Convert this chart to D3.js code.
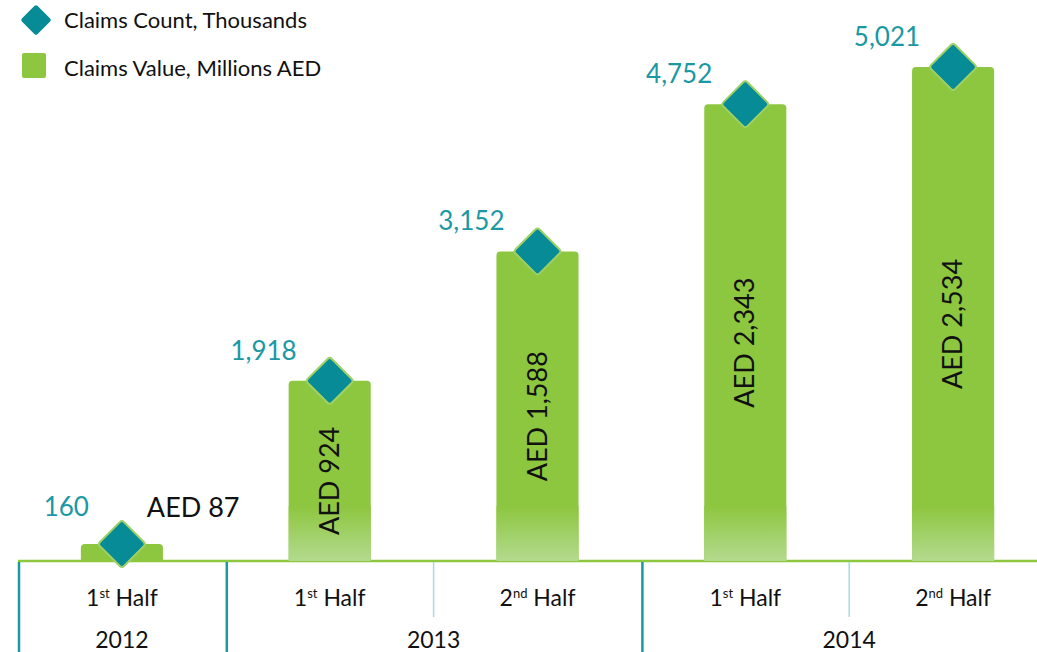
<!DOCTYPE html>
<html>
<head>
<meta charset="utf-8">
<script src="https://cdn.jsdelivr.net/npm/d3@7"></script>
<style>
  body { margin: 0; background: #fff; }
  svg { display: block; font-family: Lato, "Open Sans", sans-serif; }
</style>
</head>
<body>
<div id="chart"></div>
<script>
// data
var periods = ["2012 H1", "2013 H1", "2013 H2", "2014 H1", "2014 H2"];
var halfLabels = [["1", "st"], ["1", "st"], ["2", "nd"], ["1", "st"], ["2", "nd"]];
var years = ["2012", "2013", "2014"];
var yearSpans = [[0, 0], [1, 2], [3, 4]];
var claimsCount = [160, 1918, 3152, 4752, 5021];     // thousands
var claimsValue = [87, 924, 1588, 2343, 2534];        // millions AED

var svgWidth = 1037, svgHeight = 652;
var baseY = 561;

var svg = d3.select("#chart").append("svg")
  .attr("width", svgWidth)
  .attr("height", svgHeight);

var green = "#8dc63f", teal = "#078c97", tealText = "#1a98a3";

var defs = svg.append("defs");
var grad = defs.append("linearGradient")
  .attr("id", "fade").attr("x1", 0).attr("y1", 0).attr("x2", 0).attr("y2", 1);
grad.append("stop").attr("offset", "0%").attr("stop-color", green);
grad.append("stop").attr("offset", "100%").attr("stop-color", "#b3da8e");

// scales
var x = d3.scaleBand().domain(periods).range([18, 1057]).paddingInner(0.605);
x.paddingOuter(x.paddingInner() / 2);
var y = d3.scaleLinear().domain([0, 2534]).range([baseY, 67]);

// baseline
svg.append("line")
  .attr("x1", 18).attr("x2", svgWidth)
  .attr("y1", baseY).attr("y2", baseY)
  .attr("stroke", green).attr("stroke-width", 2.5);

// bars
var bars = svg.selectAll("g.bar").data(periods).enter().append("g").attr("class", "bar");

bars.append("path")
  .attr("fill", green)
  .attr("d", function (d, i) {
    var x0 = x(d), w = x.bandwidth(), t = y(claimsValue[i]), r = 4;
    return "M" + x0 + "," + baseY +
      "V" + (t + r) + "Q" + x0 + "," + t + " " + (x0 + r) + "," + t +
      "H" + (x0 + w - r) + "Q" + (x0 + w) + "," + t + " " + (x0 + w) + "," + (t + r) +
      "V" + baseY + "Z";
  });

// faded bottom section of the taller bars
bars.filter(function (d, i) { return y(claimsValue[i]) < 506; })
  .append("rect")
  .attr("x", function (d) { return x(d); })
  .attr("width", function () { return x.bandwidth(); })
  .attr("y", 506)
  .attr("height", baseY - 506)
  .attr("fill", "url(#fade)");

// value labels inside bars (rotated)
bars.filter(function (d, i) { return i > 0; })
  .append("text")
  .attr("transform", function (d) {
    var i = periods.indexOf(d);
    var cy = (y(claimsValue[i]) + baseY) / 2 + 10;
    return "translate(" + (x(d) + x.bandwidth() / 2 + 9) + "," + cy + ") rotate(-90)";
  })
  .attr("text-anchor", "middle")
  .style("font-size", "27px")
  .attr("fill", "#111")
  .text(function (d) {
    return "AED " + d3.format(",")(claimsValue[periods.indexOf(d)]);
  });

// short first bar gets its label outside
svg.append("text")
  .attr("x", x(periods[0]) + 66).attr("y", 517)
  .style("font-size", "27px").attr("fill", "#111")
  .text("AED " + d3.format(",")(claimsValue[0]));

// diamonds for claims count
var ds = 17;
svg.selectAll("rect.diamond").data(periods).enter().append("rect")
  .attr("class", "diamond")
  .attr("x", -ds).attr("y", -ds)
  .attr("width", ds * 2).attr("height", ds * 2)
  .attr("rx", 3)
  .attr("fill", teal)
  .attr("stroke", "#9fd166").attr("stroke-width", 2)
  .attr("transform", function (d, i) {
    return "translate(" + (x(d) + x.bandwidth() / 2) + "," + y(claimsValue[i]) + ") rotate(45)";
  });

svg.selectAll("text.count").data(periods).enter().append("text")
  .attr("class", "count")
  .attr("x", function (d) { return x(d) + x.bandwidth() / 2 - 33; })
  .attr("y", function (d, i) { return y(claimsValue[i]) - (i === 0 ? 28 : 21); })
  .attr("text-anchor", "end")
  .style("font-size", "26px")
  .attr("fill", tealText)
  .text(function (d, i) { return d3.format(",")(claimsCount[i]); });

// category axis: half labels
var halfText = svg.selectAll("text.half").data(periods).enter().append("text")
  .attr("class", "half")
  .attr("x", function (d) { return x(d) + x.bandwidth() / 2; })
  .attr("y", 606)
  .attr("text-anchor", "middle")
  .style("font-size", "23px")
  .attr("fill", "#111");
halfText.append("tspan").text(function (d, i) { return halfLabels[i][0]; });
halfText.append("tspan").attr("dy", -8).style("font-size", "13px").text(function (d, i) { return halfLabels[i][1]; });
halfText.append("tspan").attr("dy", 8).text(" Half");

// year labels and dividers
var step = x.step();
var edge = function (i) { return x(periods[i]) - x.paddingInner() * step / 2; };

years.forEach(function (yr, k) {
  var a = edge(yearSpans[k][0]), b = edge(yearSpans[k][1]) + step;
  svg.append("text")
    .attr("x", (a + b) / 2).attr("y", 648)
    .attr("text-anchor", "middle")
    .style("font-size", "23px").attr("fill", "#111")
    .text(yr);
  svg.append("line")
    .attr("x1", a + 1).attr("x2", a + 1)
    .attr("y1", baseY + 1).attr("y2", svgHeight)
    .attr("stroke", "#1a9aa0").attr("stroke-width", 2.5);
  if (yearSpans[k][1] > yearSpans[k][0]) {
    var m = edge(yearSpans[k][1]);
    svg.append("line")
      .attr("x1", m).attr("x2", m)
      .attr("y1", baseY + 1).attr("y2", 617)
      .attr("stroke", "#a6dbe0").attr("stroke-width", 1.5);
  }
});

// legend
var legend = svg.append("g");
legend.append("rect")
  .attr("x", -11).attr("y", -11).attr("width", 22).attr("height", 22).attr("rx", 2)
  .attr("fill", teal)
  .attr("transform", "translate(36,20) rotate(45)");
legend.append("text")
  .attr("x", 64).attr("y", 28)
  .style("font-size", "22px").attr("fill", "#111")
  .text("Claims Count, Thousands");
legend.append("rect")
  .attr("x", 22).attr("y", 53).attr("width", 24).attr("height", 25).attr("rx", 2)
  .attr("fill", green);
legend.append("text")
  .attr("x", 64).attr("y", 76)
  .style("font-size", "22px").attr("fill", "#111")
  .text("Claims Value, Millions AED");
</script>
</body>
</html>
